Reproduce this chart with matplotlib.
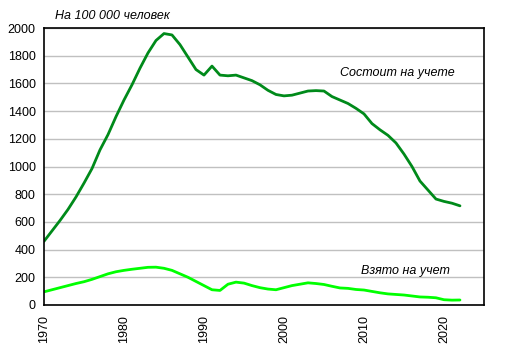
import matplotlib
matplotlib.use('Agg')
import matplotlib.pyplot as plt

plt.rcParams['font.family'] = ['Liberation Sans', 'DejaVu Sans']

years = list(range(1970, 2023))
registered = [
    460, 535, 610, 690, 780, 880, 985, 1120, 1230, 1360,
    1480, 1590, 1710, 1820, 1910, 1960, 1950, 1880, 1790, 1700,
    1660, 1725, 1660, 1655, 1660, 1640, 1620, 1590, 1550, 1520,
    1510, 1515, 1530, 1545, 1548, 1545, 1505, 1480, 1455, 1420,
    1380, 1310, 1265, 1225, 1170, 1090, 1000, 895, 830, 765,
    748, 735, 716,
]
new_cases = [
    95, 110, 125, 140, 155, 168, 185, 205, 225, 240,
    250, 258, 265, 272, 273, 265, 250, 225, 200, 170,
    140, 110, 105, 150, 165, 158, 140, 125, 115, 110,
    125, 140, 150, 160, 155, 148, 135, 123, 120, 112,
    108, 98, 88, 80, 76, 72, 65, 58, 56, 52,
    38, 35, 36,
]
xticks = [1970, 1980, 1990, 2000, 2010, 2020]
yticks = list(range(0, 2001, 200))

fig = plt.figure(figsize=(5.11, 3.56), dpi=100)
ax = fig.add_axes([0.0861, 0.1433, 0.861, 0.778])

ax.plot(years, registered, color='#008a1a', linewidth=2.0, solid_capstyle='round')
ax.plot(years, new_cases, color='#00ff00', linewidth=2.0, solid_capstyle='round')

ax.set_xlim(1970, 2025)
ax.set_ylim(0, 2000)
ax.set_xticks(xticks)
ax.set_xticklabels([str(x) for x in xticks], rotation=90)
ax.set_yticks(yticks)
ax.tick_params(axis='both', length=0, labelsize=9)
ax.tick_params(axis='x', pad=7)
ax.tick_params(axis='y', pad=6)
ax.grid(axis='y', color='#c0c0c0', linewidth=1)
ax.set_axisbelow(True)
for s in ax.spines.values():
    s.set_color('black')
    s.set_linewidth(1.2)

fig.text(0.108, 0.955, 'На 100 000 человек', fontsize=9, style='italic', va='center')
ax.text(2014.2, 1675, 'Состоит на учете', fontsize=9, style='italic', ha='center', va='center')
ax.text(2015.2, 245, 'Взято на учет', fontsize=9, style='italic', ha='center', va='center')

fig.savefig('out.png', dpi=100)
